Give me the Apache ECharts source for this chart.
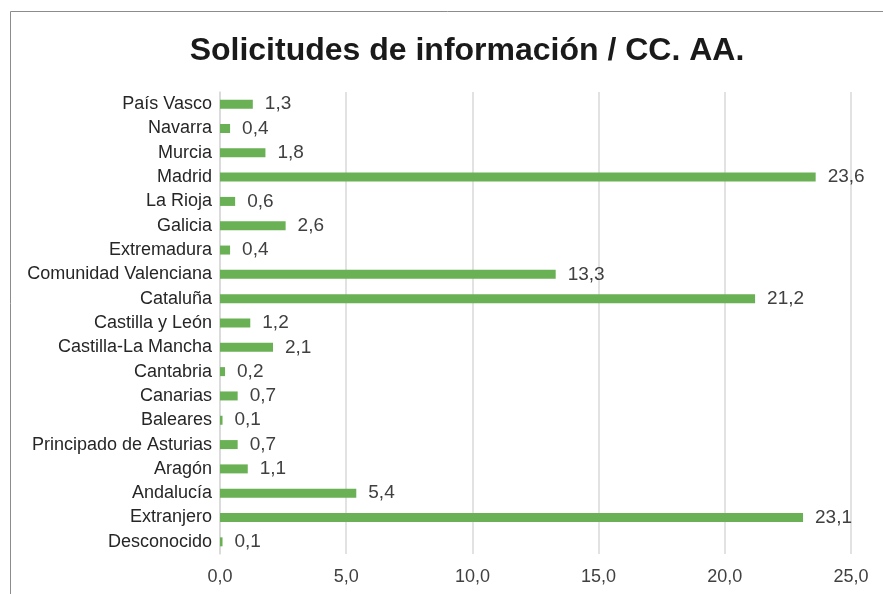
<!DOCTYPE html>
<html>
<head>
<meta charset="utf-8">
<script src="https://cdn.jsdelivr.net/npm/echarts@6/dist/echarts.min.js"></script>
<style>
  html, body { margin: 0; padding: 0; background: #fff; }
  #chart { width: 883px; height: 594px; }
</style>
</head>
<body>
<div id="chart"></div>
<script>
// categorias de abajo a arriba (el eje de categorias empieza por abajo)
const regiones = [
    'Desconocido', 'Extranjero', 'Andalucía', 'Aragón', 'Principado de Asturias',
    'Baleares', 'Canarias', 'Cantabria', 'Castilla-La Mancha', 'Castilla y León',
    'Cataluña', 'Comunidad Valenciana', 'Extremadura', 'Galicia', 'La Rioja',
    'Madrid', 'Murcia', 'Navarra', 'País Vasco'
];
const porcentajes = [
    0.1, 23.1, 5.4, 1.1, 0.7,
    0.1, 0.7, 0.2, 2.1, 1.2,
    21.2, 13.3, 0.4, 2.6, 0.6,
    23.6, 1.8, 0.4, 1.3
];
const xTicks = [0, 5, 10, 15, 20, 25];

const fmt = function(v) {
    return v.toFixed(1).replace('.', ',');
};

const chart = echarts.init(document.getElementById('chart'));
chart.setOption({
    animation: false,
    title: {
        text: 'Solicitudes de información / CC. AA.',
        left: 462,
        top: 30,
        textAlign: 'center',
        textStyle: {
            fontFamily: 'Liberation Sans',
            fontWeight: 'bold',
            fontSize: 32,
            color: '#1a1a1a'
        }
    },
    graphic: [{
        type: 'polyline',
        shape: {points: [[10.5, 600], [10.5, 11.5], [890, 11.5]]},
        style: {stroke: '#8c8c8c', lineWidth: 1, fill: null}
    }],
    grid: {
        left: 220,
        right: 32,
        top: 92,
        bottom: 40
    },
    xAxis: {
        type: 'value',
        min: xTicks[0],
        max: xTicks[xTicks.length - 1],
        interval: 5,
        axisLine: {show: false},
        axisTick: {show: false},
        axisLabel: {
            color: '#404040',
            fontSize: 18,
            fontFamily: 'Liberation Sans',
            margin: 14,
            formatter: function(v) { return fmt(v); }
        },
        splitLine: {
            show: true,
            lineStyle: {color: '#d9d9d9', width: 1.5}
        }
    },
    yAxis: {
        type: 'category',
        data: regiones,
        axisLine: {show: true, lineStyle: {color: '#d9d9d9', width: 1.5}},
        axisTick: {show: false},
        axisLabel: {
            color: '#262626',
            fontSize: 18,
            fontFamily: 'Liberation Sans',
            margin: 8
        }
    },
    series: [{
        type: 'bar',
        data: porcentajes,
        barWidth: 9,
        itemStyle: {color: '#6ab155'},
        label: {
            show: true,
            position: 'right',
            distance: 12,
            color: '#404040',
            fontSize: 19,
            fontFamily: 'Liberation Sans',
            formatter: function(p) { return fmt(p.value); }
        }
    }]
});
</script>
</body>
</html>
